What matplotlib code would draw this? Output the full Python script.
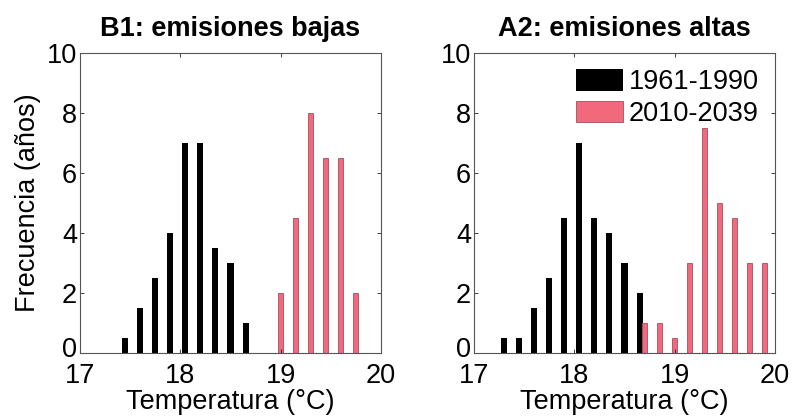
import matplotlib.pyplot as plt
import matplotlib.transforms as mtransforms

plt.rcParams['font.family'] = ['Liberation Sans', 'DejaVu Sans']

# B1 panel
b1_base_x = [17.45, 17.6, 17.75, 17.9, 18.05, 18.2, 18.35, 18.5, 18.65]
b1_base_y = [0.5, 1.5, 2.5, 4, 7, 7, 3.5, 3, 1]
b1_fut_x = [19.0, 19.15, 19.3, 19.45, 19.6, 19.75]
b1_fut_y = [2, 4.5, 8, 6.5, 6.5, 2]

# A2 panel
a2_base_x = [17.3, 17.45, 17.6, 17.75, 17.9, 18.05, 18.2, 18.35, 18.5, 18.65]
a2_base_y = [0.5, 0.5, 1.5, 2.5, 4.5, 7, 4.5, 4, 3, 2]
a2_fut_x = [18.7, 18.85, 19.0, 19.15, 19.3, 19.45, 19.6, 19.75, 19.9]
a2_fut_y = [1, 1, 0.5, 3, 7.5, 5, 4.5, 3, 3]

titles = ['B1: emisiones bajas', 'A2: emisiones altas']
labels = ['1961-1990', '2010-2039']
red = '#f2687c'
fs = 19.5

fig = plt.figure(figsize=(8.04, 4.19), dpi=100)
ax1 = fig.add_axes([80 / 804, 66 / 419, 301 / 804, 300 / 419])
ax2 = fig.add_axes([474 / 804, 66 / 419, 301 / 804, 300 / 419])

panels = [(ax1, b1_base_x, b1_base_y, b1_fut_x, b1_fut_y),
          (ax2, a2_base_x, a2_base_y, a2_fut_x, a2_fut_y)]

for i, (ax, bx, by, fx, fy) in enumerate(panels):
    ax.bar(bx, by, width=0.06, color='black', label=labels[0])
    ax.bar(fx, fy, width=0.05, color=red, edgecolor='#a05060', linewidth=0.6,
           label=labels[1])
    ax.set_xlim(17, 20)
    ax.set_ylim(0, 10)
    ax.set_xticks([17, 18, 19, 20])
    ax.set_yticks([0, 2, 4, 6, 8, 10])
    ax.tick_params(direction='in', top=True, right=True, labelsize=fs,
                   length=3, width=0.6, pad=2, colors='#222222',
                   labelcolor='black')
    ax.tick_params(axis='x', pad=7)
    for s in ax.spines.values():
        s.set_linewidth(0.8)
        s.set_color('#555555')
    ax.set_title(titles[i], fontsize=fs, fontweight='bold', pad=12)
    ax.set_xlabel('Temperatura (°C)', fontsize=fs, labelpad=0)
    # raise the "0" label a little, as in the original
    lab0 = ax.get_yticklabels()[0]
    lab0.set_transform(lab0.get_transform() +
                       mtransforms.ScaledTranslation(0, 6 / 100, fig.dpi_scale_trans))

ax1.set_ylabel('Frecuencia (años)', fontsize=fs, labelpad=4)
ax2.legend(loc='upper right', frameon=False, fontsize=fs, handlelength=1.75,
           handleheight=0.85, handletextpad=0.2, labelspacing=0.2,
           borderaxespad=0.2, borderpad=0.4)

plt.savefig('out.png')
